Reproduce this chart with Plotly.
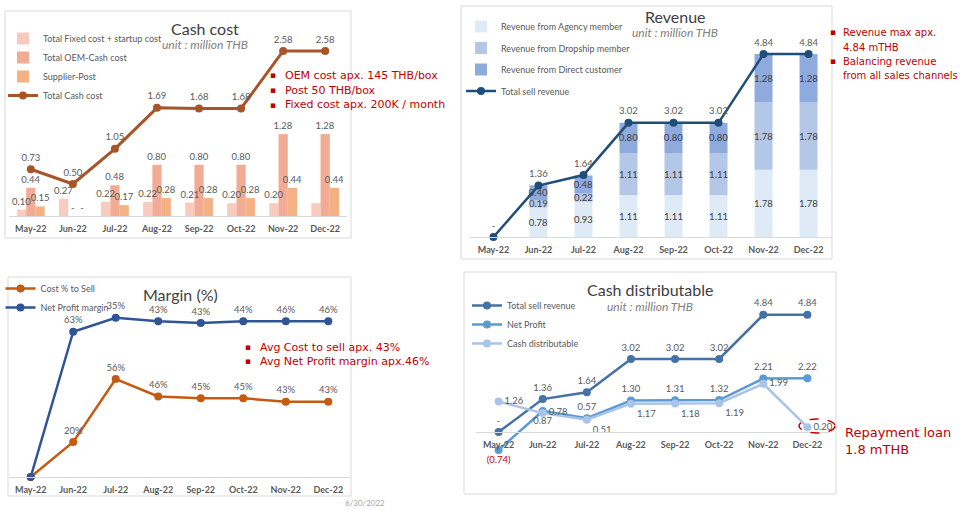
import plotly.graph_objects as go
import numpy as np

months = ["May-22", "Jun-22", "Jul-22", "Aug-22", "Sep-22", "Oct-22", "Nov-22", "Dec-22"]

# ---- Cash cost (million THB) ----
fixed_cost = [0.10, 0.27, 0.22, 0.22, 0.21, 0.20, 0.20, 0.20]
oem_cost = [0.44, 0, 0.48, 0.80, 0.80, 0.80, 1.28, 1.28]
supplier_post = [0.15, 0, 0.17, 0.28, 0.28, 0.28, 0.44, 0.44]
total_cash_cost = [0.73, 0.50, 1.05, 1.69, 1.68, 1.68, 2.58, 2.58]

# ---- Revenue (million THB) ----
rev_agency = [0, 0.78, 0.93, 1.11, 1.11, 1.11, 1.78, 1.78]
rev_dropship = [0, 0.19, 0.22, 1.11, 1.11, 1.11, 1.78, 1.78]
rev_direct = [0, 0.40, 0.48, 0.80, 0.80, 0.80, 1.28, 1.28]
total_revenue = [0, 1.36, 1.64, 3.02, 3.02, 3.02, 4.84, 4.84]

# ---- Margin (%) ----
cost_pct = [0, 20, 56, 46, 45, 45, 43, 43]
net_margin_pct = [0, 63, 35, 43, 43, 44, 46, 46]

# ---- Cash distributable (million THB) ----
net_profit = [-0.74, 0.87, 0.57, 1.30, 1.31, 1.32, 2.21, 2.22]
cash_distributable = [1.26, 0.78, 0.51, 1.17, 1.18, 1.19, 1.99, 0.20]

W, H = 960, 510
def px(x): return x / W
def py(y): return 1 - y / H

def fmt(v, zero="-"):
    if v == 0:
        return zero
    if v < 0:
        return "({:.2f})".format(-v)
    return "{:.2f}".format(v)

FONT = "Lato"
LBL = dict(family=FONT, size=9.5, color="#595959")
fig = go.Figure()

# ---------- Panel 1: Cash cost ----------
fixed_txt = [fmt(v) for v in fixed_cost]
fixed_txt[-1] = ""
cash_bars = [
    ("Total Fixed cost + startup cost", fixed_cost, "#F8CBBE", fixed_txt, "g1"),
    ("Total OEM-Cash cost", oem_cost, "#F2AC95", [fmt(v) for v in oem_cost], "g2"),
    ("Supplier-Post", supplier_post, "#F4B183", [fmt(v) for v in supplier_post], "g3"),
]
for name, vals, col, txt, grp in cash_bars:
    fig.add_trace(go.Bar(x=months, y=vals, name=name, marker=dict(color=col, line_width=0),
                         offsetgroup=grp, xaxis="x", yaxis="y", legend="legend", hoverinfo="skip"))
# label layer drawn above every bar
for name, vals, col, txt, grp in cash_bars:
    fig.add_trace(go.Bar(x=months, y=vals, name=name, marker=dict(color="rgba(0,0,0,0)", line_width=0),
                         offsetgroup=grp, text=txt, textposition="outside", textfont=LBL,
                         constraintext="none", textangle=0, cliponaxis=False, showlegend=False,
                         xaxis="x", yaxis="y", hoverinfo="skip"))
fig.add_trace(go.Scatter(x=months, y=total_cash_cost, name="Total Cash cost", mode="lines+markers+text",
                         line=dict(color="#A65428", width=3), marker=dict(size=8, color="#A65428"),
                         text=[fmt(v) for v in total_cash_cost], textposition="top center", textfont=LBL,
                         cliponaxis=False, xaxis="x", yaxis="y", legend="legend"))

# ---------- Panel 2: Revenue ----------
agency = np.array(rev_agency)
drop = np.array(rev_dropship)
direct = np.array(rev_direct)
for name, vals, base, col in [
    ("Revenue from Agency member", agency, np.zeros(len(agency)), "#DEEBF7"),
    ("Revenue from Dropship member", drop, agency, "#B4C7E7"),
    ("Revenue from Direct customer", direct, agency + drop, "#8FAADC"),
]:
    fig.add_trace(go.Bar(x=months, y=vals, base=base, name=name, marker=dict(color=col, line_width=0),
                         width=0.4, offset=-0.2, offsetgroup="rev",
                         text=[fmt(v, "") for v in vals], textposition="inside", textangle=0,
                         insidetextanchor="middle", textfont=dict(family=FONT, size=9.5, color="#404040"),
                         constraintext="none", xaxis="x2", yaxis="y2", legend="legend2",
                         legendgroup=name))
fig.add_trace(go.Scatter(x=months, y=total_revenue, name="Total sell revenue", mode="lines+markers+text",
                         line=dict(color="#1F4E79", width=2.5), marker=dict(size=8, color="#1F4E79"),
                         text=[fmt(v) for v in total_revenue], textposition="top center", textfont=LBL,
                         cliponaxis=False, xaxis="x2", yaxis="y2", legend="legend2",
                         legendgroup="Total sell revenue"))

# ---------- Panel 3: Margin (%) (stacked lines) ----------
pct_txt = lambda arr: ["" if v == 0 else "{}%".format(v) for v in arr]
fig.add_trace(go.Scatter(x=months, y=cost_pct, name="Cost % to Sell", mode="lines+markers+text",
                         stackgroup="m", fill="none",
                         line=dict(color="#C55A11", width=2.5), marker=dict(size=8, color="#C55A11"),
                         text=pct_txt(cost_pct), textposition="top center", textfont=LBL,
                         cliponaxis=False, xaxis="x3", yaxis="y3", legend="legend3"))
fig.add_trace(go.Scatter(x=months, y=net_margin_pct, name="Net Profit margin", mode="lines+markers+text",
                         stackgroup="m", fill="none",
                         line=dict(color="#2F5597", width=2.5), marker=dict(size=8, color="#2F5597"),
                         text=pct_txt(net_margin_pct), textposition="top center", textfont=LBL,
                         cliponaxis=False, xaxis="x3", yaxis="y3", legend="legend3"))

# ---------- Panel 4: Cash distributable ----------
fig.add_trace(go.Scatter(x=months, y=total_revenue, name="Total sell revenue", mode="lines+markers+text",
                         line=dict(color="#4472A4", width=2.5), marker=dict(size=8, color="#4472A4"),
                         text=[fmt(v) for v in total_revenue], textposition="top center", textfont=LBL,
                         cliponaxis=False, xaxis="x4", yaxis="y4", legend="legend4"))
np_pos = ["bottom center", "bottom center"] + ["top center"] * 6
np_col = ["#C00000"] + ["#595959"] * 7
fig.add_trace(go.Scatter(x=months, y=net_profit, name="Net Profit", mode="lines+markers+text",
                         line=dict(color="#5B9BD5", width=2.5), marker=dict(size=8, color="#5B9BD5"),
                         text=[fmt(v) for v in net_profit], textposition=np_pos,
                         textfont=dict(family=FONT, size=9.5, color=np_col),
                         cliponaxis=False, xaxis="x4", yaxis="y4", legend="legend4"))
cd_pos = ["middle right", "middle right", "bottom right", "bottom right", "bottom right",
          "bottom right", "middle right", "middle right"]
fig.add_trace(go.Scatter(x=months, y=cash_distributable, name="Cash distributable", mode="lines+markers+text",
                         line=dict(color="#A9C4E8", width=2.5), marker=dict(size=8, color="#A9C4E8"),
                         text=[fmt(v) for v in cash_distributable], textposition=cd_pos, textfont=LBL,
                         cliponaxis=False, xaxis="x4", yaxis="y4", legend="legend4"))

# ---------- Axes ----------
def xax(domain, anchor, position=None):
    d = dict(domain=domain, type="category", showgrid=False, zeroline=False, showline=True,
             linecolor="#D9D9D9", linewidth=1, ticks="", fixedrange=True,
             tickfont=dict(family=FONT, size=9, color="#595959", weight="bold"),
             ticklabelstandoff=4)
    if position is not None:
        d.update(anchor="free", position=position)
    else:
        d.update(anchor=anchor)
    return d

def yax(domain, rng, anchor):
    return dict(domain=domain, range=rng, visible=False, showgrid=False, zeroline=False,
                fixedrange=True, anchor=anchor)

legend_common = dict(bgcolor="rgba(0,0,0,0)", borderwidth=0,
                     font=dict(family=FONT, size=9, color="#595959"),
                     xanchor="left", yanchor="top")

fig.update_layout(
    width=W, height=H, margin=dict(l=0, r=0, t=0, b=0),
    paper_bgcolor="white", plot_bgcolor="rgba(0,0,0,0)",
    barmode="group", bargap=0.34, bargroupgap=0,
    xaxis=xax([px(8.9), px(347.1)], "y"),
    yaxis=yax([py(216), py(24)], [0, 3.0], "x"),
    xaxis2=xax([px(470.4), px(831.6)], "y2"),
    yaxis2=yax([py(237), py(29)], [0, 208 / 37.8], "x2"),
    xaxis3=xax([px(8.6), px(350.4)], "y3"),
    yaxis3=yax([py(477), py(293)], [0, 184 / 1.75], "x3"),
    xaxis4=xax([px(475.9), px(830.1)], "y4", position=py(432)),
    yaxis4=yax([py(470), py(295)], [-38 / 24.2, 137 / 24.2], "x4"),
    legend=dict(x=px(3), y=py(24), traceorder="normal", **legend_common),
    legend2=dict(x=px(461), y=py(12), traceorder="grouped", tracegroupgap=2.5, **legend_common),
    legend3=dict(x=px(0.5), y=py(274), traceorder="normal", **legend_common),
    legend4=dict(x=px(467), y=py(291), traceorder="normal", **legend_common),
    showlegend=True,
)

# ---------- Panel frames ----------
for (x0, y0, x1, y1) in [(5, 11, 351, 238), (461, 6, 832, 259), (8, 277, 351, 496), (464, 272, 836, 494)]:
    fig.add_shape(type="rect", xref="paper", yref="paper", x0=px(x0), x1=px(x1), y0=py(y1), y1=py(y0),
                  line=dict(color="#D9D9D9", width=1), fillcolor="rgba(0,0,0,0)", layer="below")

# ---------- Titles ----------
def ann(text, x, y, size, color, xanchor="center", family=FONT, italic=False):
    t = "<i>{}</i>".format(text) if italic else text
    fig.add_annotation(text=t, x=px(x), y=py(y), xref="paper", yref="paper", showarrow=False,
                       xanchor=xanchor, yanchor="middle", font=dict(family=family, size=size, color=color))

ann("Cash cost", 205, 28, 16, "#404040")
ann("unit : million THB", 205, 44, 12, "#7F7F7F", italic=True)
ann("Revenue", 675, 16, 16, "#404040")
ann("unit : million THB", 675, 32, 12, "#7F7F7F", italic=True)
ann("Margin (%)", 180, 294, 16, "#404040")
ann("Cash distributable", 650, 289, 16, "#404040")
ann("unit : million THB", 650, 306, 12, "#7F7F7F", italic=True)

# ---------- Red notes ----------
RED = "#C00000"
NF = "DejaVu Sans"
def note(lines, bx, tx, size=11):
    for text, y, bullet in lines:
        if bullet:
            ann("▪", bx, y, 9, RED, xanchor="left", family=NF)
        ann(text, tx, y, size, RED, xanchor="left", family=NF)

note([("OEM cost apx. 145 THB/box", 75, True), ("Post 50 THB/box", 90, True),
      ("Fixed cost apx. 200K / month", 105, True)], 268, 283)
note([("Revenue max apx.", 32, True), ("4.84 mTHB", 47, False),
      ("Balancing revenue", 61, True), ("from all sales channels", 75, False)], 828, 841, 10)
note([("Avg Cost to sell apx. 43%", 347, True), ("Avg Net Profit margin apx.46%", 361, True)], 243, 258)
ann("Repayment loan", 843, 432, 13, RED, xanchor="left", family=NF)
ann("1.8 mTHB", 843, 449, 13, RED, xanchor="left", family=NF)
fig.add_shape(type="circle", xref="paper", yref="paper", x0=px(799), x1=px(835), y0=py(433), y1=py(419),
              line=dict(color=RED, width=1.5, dash="dash"))

ann("6/30/2022", 365, 503, 8, "#A6A6A6")

fig.write_html("out.html", config={"displayModeBar": False},
               post_script="document.body.style.margin='0px';document.body.style.overflow='hidden';")
